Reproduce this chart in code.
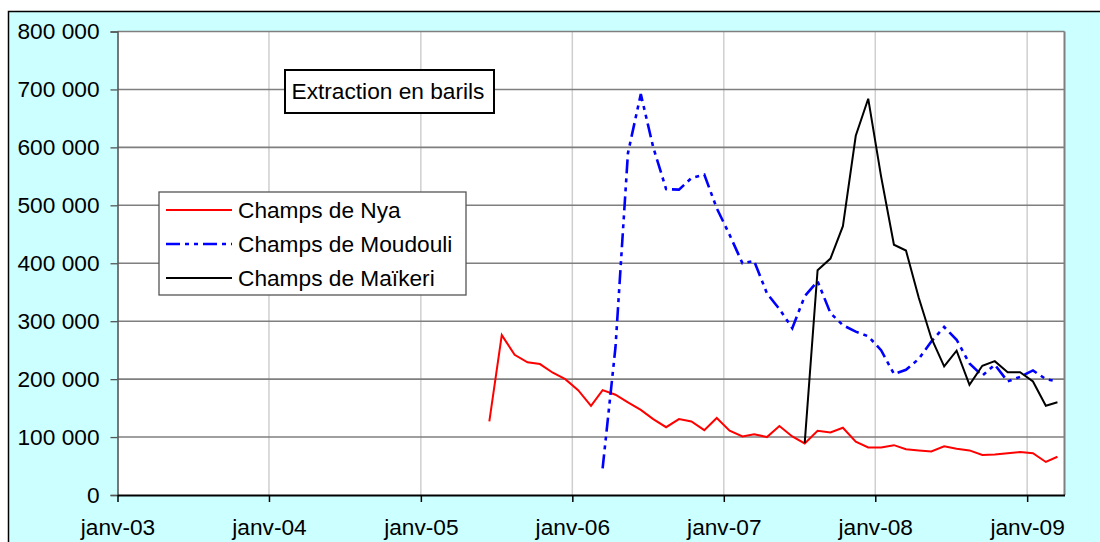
<!DOCTYPE html>
<html>
<head>
<meta charset="utf-8">
<script src="https://cdn.jsdelivr.net/npm/d3@7"></script>
<style>
  body { margin: 0; background: #fff; }
  svg { display: block; font-family: "Liberation Sans", Arial, sans-serif; }
</style>
</head>
<body>
<div class="chart"></div>
<script>
// monthly extraction, one point per month (mid-month)
const months = [
  "2005-06", "2005-07", "2005-08", "2005-09", "2005-10", "2005-11", "2005-12",
  "2006-01", "2006-02", "2006-03", "2006-04", "2006-05", "2006-06", "2006-07", "2006-08", "2006-09", "2006-10", "2006-11", "2006-12",
  "2007-01", "2007-02", "2007-03", "2007-04", "2007-05", "2007-06", "2007-07", "2007-08", "2007-09", "2007-10", "2007-11", "2007-12",
  "2008-01", "2008-02", "2008-03", "2008-04", "2008-05", "2008-06", "2008-07", "2008-08", "2008-09", "2008-10", "2008-11", "2008-12",
  "2009-01", "2009-02", "2009-03",
];

const nya = [
  127000, 276000, 242000, 229000, 226000, 211000, 200000,
  181000, 154000, 181000, 173000, 160000, 147000, 131000, 117000, 131000, 127000, 112000, 133000,
  111000, 101000, 105000, 100000, 119000, 101000, 89000, 111000, 108000, 116000, 92000, 82000,
  82000, 86000, 79000, 77000, 75000, 84000, 80000, 77000, 69000, 70000, 72000, 74000,
  72000, 57000, 66000,
];

const moudouli = [
  null, null, null, null, null, null, null,
  null, null, 46000, 255000, 590000, 692000, 600000, 528000, 527000, 547000, 553000, 495000,
  449000, 400000, 404000, 348000, 321000, 288000, 343000, 369000, 314000, 293000, 282000, 274000,
  250000, 209000, 216000, 235000, 265000, 290000, 268000, 227000, 206000, 225000, 196000, 204000,
  215000, 200000, 196000,
];

const maikeri = [
  null, null, null, null, null, null, null,
  null, null, null, null, null, null, null, null, null, null, null, null,
  null, null, null, null, null, null, 90000, 388000, 408000, 464000, 620000, 684000,
  550000, 432000, 422000, 340000, 271000, 222000, 249000, 190000, 223000, 231000, 212000, 212000,
  196000, 154000, 160000,
];

const seriesNames = ["Champs de Nya", "Champs de Moudouli", "Champs de Maïkeri"];
const xTickLabels = ["janv-03", "janv-04", "janv-05", "janv-06", "janv-07", "janv-08", "janv-09"];
const yTicks = [0, 100000, 200000, 300000, 400000, 500000, 600000, 700000, 800000];

const W = 1100, H = 542;
const plot = { left: 117.5, right: 1064.5, top: 31.5, bottom: 495 };

const parseMonth = d3.timeParse("%Y-%m");
const dates = months.map((m) => d3.timeDay.offset(parseMonth(m), 14));
const tickDates = xTickLabels.map((l) => new Date(2000 + +l.slice(5), 0, 1));

const styles = [
  { color: "#ff0000", width: 2, dash: null },
  { color: "#0000ff", width: 2.6, dash: "14,5,4,5,4,5" },
  { color: "#000000", width: 2, dash: null },
];
const series = [nya, moudouli, maikeri].map((vals, i) => ({
  name: seriesNames[i],
  style: styles[i],
  points: vals.map((v, j) => ({ date: dates[j], value: v })),
}));

const svg = d3
  .select(".chart")
  .append("svg")
  .attr("width", W)
  .attr("height", H);

// chart area
svg
  .append("rect")
  .attr("x", 8.5)
  .attr("y", 11.5)
  .attr("width", W + 20)
  .attr("height", H + 20)
  .attr("fill", "#ccffff")
  .attr("stroke", "#000")
  .attr("stroke-width", 1.5);

const xScale = d3
  .scaleTime()
  .domain([new Date(2003, 0, 1), new Date(2009, 3, 1)])
  .range([plot.left, plot.right]);

const yScale = d3
  .scaleLinear()
  .domain([0, 800000])
  .range([plot.bottom, plot.top]);

svg
  .append("rect")
  .attr("x", plot.left)
  .attr("y", plot.top)
  .attr("width", plot.right - plot.left)
  .attr("height", plot.bottom - plot.top)
  .attr("fill", "#fff");

// vertical grid
svg
  .append("g")
  .selectAll("line")
  .data(tickDates.slice(1))
  .join("line")
  .attr("x1", (d) => xScale(d))
  .attr("x2", (d) => xScale(d))
  .attr("y1", plot.top)
  .attr("y2", plot.bottom)
  .attr("stroke", "#cfcfcf")
  .attr("stroke-width", 1.5);

// horizontal grid
svg
  .append("g")
  .selectAll("line")
  .data(yTicks.slice(1))
  .join("line")
  .attr("x1", plot.left)
  .attr("x2", plot.right)
  .attr("y1", (d) => yScale(d))
  .attr("y2", (d) => yScale(d))
  .attr("stroke", "#7f7f7f")
  .attr("stroke-width", 1.6);

// right border of plot
svg
  .append("line")
  .attr("x1", plot.right)
  .attr("x2", plot.right)
  .attr("y1", plot.top)
  .attr("y2", plot.bottom)
  .attr("stroke", "#7f7f7f")
  .attr("stroke-width", 2);

// y axis
const yAxis = svg
  .append("g")
  .attr("transform", "translate(" + plot.left + ",0)")
  .call(
    d3
      .axisLeft(yScale)
      .tickValues(yTicks)
      .tickSize(7)
      .tickPadding(11)
      .tickFormat((d) => d3.format(",")(d).replace(/,/g, " "))
  );
yAxis.select(".domain").attr("stroke", "#555").attr("stroke-width", 1.6);
yAxis.selectAll(".tick line").attr("stroke", "#555").attr("stroke-width", 1.3);
yAxis
  .selectAll("text")
  .attr("fill", "#000")
  .style("font-size", "22.7px")
  .style("font-family", "Liberation Sans, Arial, sans-serif");

// x axis
const xAxis = svg
  .append("g")
  .attr("transform", "translate(0," + plot.bottom + ")")
  .call(
    d3
      .axisBottom(xScale)
      .tickValues(tickDates)
      .tickSize(7)
      .tickSizeOuter(0)
      .tickFormat((d, i) => xTickLabels[i])
  );
xAxis.select(".domain").attr("stroke", "#000").attr("stroke-width", 2.2);
xAxis.selectAll(".tick line").attr("stroke", "#000").attr("stroke-width", 1.5);
xAxis
  .selectAll("text")
  .attr("fill", "#000")
  .attr("dy", null)
  .attr("y", 40)
  .style("font-size", "22.7px")
  .style("font-family", "Liberation Sans, Arial, sans-serif");

// series lines
const line = d3
  .line()
  .defined((d) => d.value != null)
  .x((d) => xScale(d.date))
  .y((d) => yScale(d.value));

svg
  .append("g")
  .selectAll("path")
  .data(series)
  .join("path")
  .attr("d", (d) => line(d.points))
  .attr("fill", "none")
  .attr("stroke", (d) => d.style.color)
  .attr("stroke-width", (d) => d.style.width)
  .attr("stroke-dasharray", (d) => d.style.dash)
  .attr("stroke-linejoin", "miter");

// title box
svg
  .append("rect")
  .attr("x", 285)
  .attr("y", 70)
  .attr("width", 209)
  .attr("height", 43)
  .attr("fill", "#fff")
  .attr("stroke", "#000")
  .attr("stroke-width", 2);
svg
  .append("text")
  .attr("x", 291.5)
  .attr("y", 99)
  .text("Extraction en barils")
  .style("font-size", "22.7px");

// legend
const legend = svg.append("g");
legend
  .append("rect")
  .attr("x", 159)
  .attr("y", 192)
  .attr("width", 307)
  .attr("height", 103)
  .attr("fill", "#fff")
  .attr("stroke", "#555")
  .attr("stroke-width", 1.3);

const rows = legend
  .selectAll("g.row")
  .data(series)
  .join("g")
  .attr("class", "row")
  .attr("transform", (d, i) => "translate(0," + (210 + i * 34) + ")");
rows
  .append("line")
  .attr("x1", 166)
  .attr("x2", 232)
  .attr("stroke", (d) => d.style.color)
  .attr("stroke-width", (d) => d.style.width)
  .attr("stroke-dasharray", (d) => d.style.dash);
rows
  .append("text")
  .attr("x", 238)
  .attr("y", 8)
  .text((d) => d.name)
  .style("font-size", "22.7px");
</script>
</body>
</html>
